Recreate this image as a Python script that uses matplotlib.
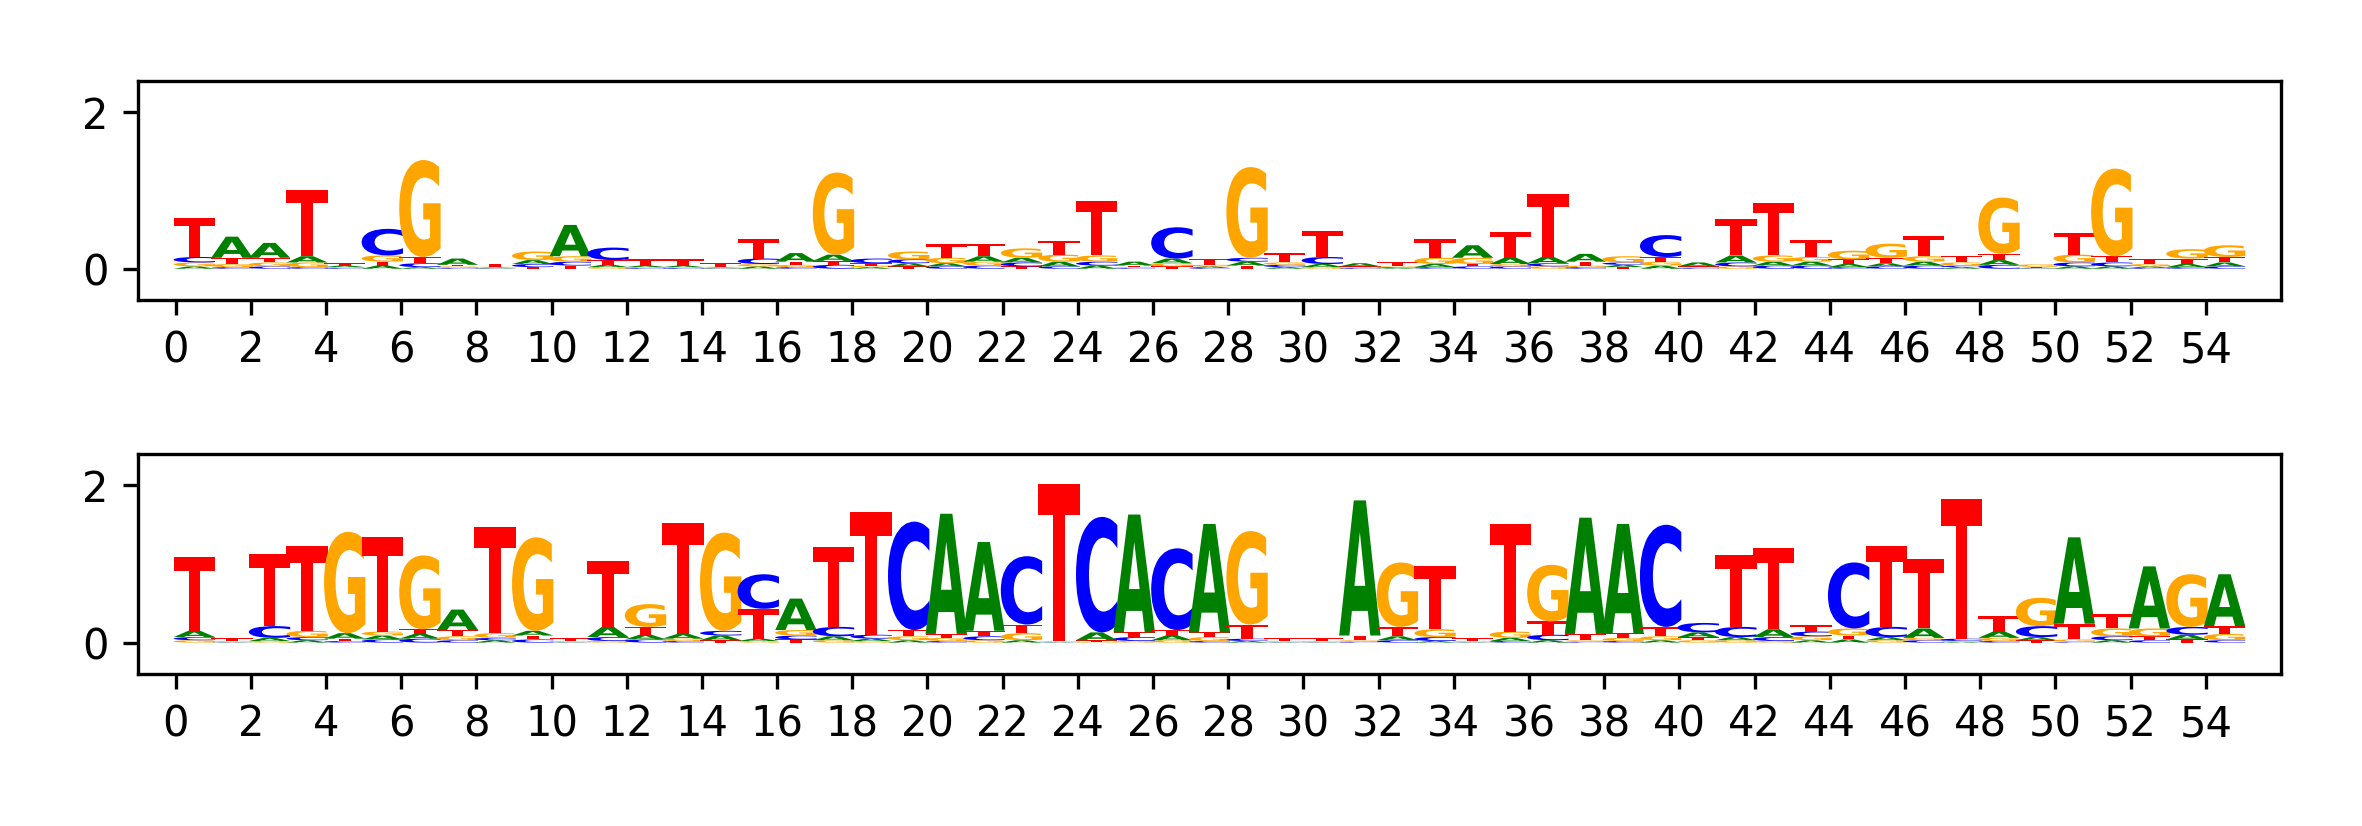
import matplotlib

matplotlib.use("Agg")
import matplotlib.pyplot as plt
from matplotlib.font_manager import FontProperties
from matplotlib.patches import PathPatch
from matplotlib.textpath import TextPath
from matplotlib.transforms import Affine2D

BASES = ["A", "C", "G", "T"]
COLORS = {"A": "green", "C": "blue", "G": "orange", "T": "red"}

# panel 1 letter heights (bits) per position 0..54
top_A = [0.03, 0.27, 0.19, 0.08, 0.02, 0.04, 0.02, 0.08, 0.01, 0.05,
         0.40, 0.03, 0.02, 0.02, 0.01, 0.03, 0.11, 0.08, 0.02, 0.04,
         0.04, 0.07, 0.06, 0.06, 0.04, 0.05, 0.06, 0.02, 0.05, 0.02,
         0.04, 0.04, 0.01, 0.04, 0.16, 0.08, 0.08, 0.10, 0.03, 0.04,
         0.05, 0.09, 0.05, 0.05, 0.04, 0.04, 0.05, 0.02, 0.06, 0.01,
         0.03, 0.03, 0.02, 0.04, 0.05]
top_C = [0.07, 0.02, 0.03, 0.02, 0.01, 0.34, 0.05, 0.01, 0.005, 0.04,
         0.05, 0.16, 0.01, 0.01, 0.005, 0.07, 0.02, 0.05, 0.06, 0.05,
         0.03, 0.04, 0.05, 0.03, 0.05, 0.01, 0.40, 0.01, 0.05, 0.03,
         0.09, 0.01, 0.01, 0.02, 0.03, 0.03, 0.04, 0.02, 0.03, 0.28,
         0.01, 0.05, 0.04, 0.04, 0.02, 0.03, 0.04, 0.02, 0.05, 0.005,
         0.05, 0.05, 0.01, 0.02, 0.03]
top_G = [0.05, 0.04, 0.05, 0.06, 0.01, 0.08, 1.24, 0.02, 0.01, 0.11,
         0.07, 0.02, 0.01, 0.01, 0.01, 0.03, 0.03, 1.05, 0.02, 0.10,
         0.07, 0.05, 0.12, 0.09, 0.08, 0.01, 0.04, 0.02, 1.16, 0.03,
         0.02, 0.01, 0.01, 0.08, 0.08, 0.03, 0.03, 0.02, 0.08, 0.05,
         0.01, 0.03, 0.08, 0.06, 0.11, 0.18, 0.07, 0.04, 0.72, 0.03,
         0.10, 1.12, 0.03, 0.12, 0.15]
top_T = [0.50, 0.08, 0.06, 0.85, 0.03, 0.05, 0.08, 0.02, 0.04, 0.02,
         0.04, 0.06, 0.08, 0.08, 0.05, 0.25, 0.04, 0.05, 0.03, 0.03,
         0.17, 0.16, 0.03, 0.18, 0.69, 0.02, 0.03, 0.07, 0.04, 0.12,
         0.33, 0.01, 0.05, 0.24, 0.03, 0.33, 0.80, 0.05, 0.02, 0.06,
         0.01, 0.46, 0.67, 0.22, 0.06, 0.07, 0.26, 0.08, 0.08, 0.01,
         0.28, 0.08, 0.07, 0.07, 0.07]

# panel 2 letter heights (bits) per position 0..54
bot_A = [0.08, 0.005, 0.04, 0.03, 0.07, 0.05, 0.06, 0.26, 0.03, 0.06,
         0.005, 0.13, 0.06, 0.06, 0.06, 0.03, 0.40, 0.05, 0.03, 0.03,
         1.53, 1.13, 0.03, 0.005, 0.10, 1.50, 0.06, 1.38, 0.02, 0.005,
         0.005, 1.72, 0.05, 0.02, 0.005, 0.04, 0.03, 1.48, 1.39, 0.03,
         0.06, 0.04, 0.10, 0.03, 0.04, 0.04, 0.12, 0.01, 0.08, 0.04,
         1.10, 0.03, 0.79, 0.06, 0.66]
bot_C = [0.04, 0.005, 0.15, 0.04, 0.02, 0.04, 0.05, 0.03, 0.03, 0.04,
         0.005, 0.05, 0.04, 0.02, 0.06, 0.44, 0.05, 0.12, 0.05, 1.38,
         0.02, 0.05, 0.87, 0.005, 1.47, 0.05, 1.04, 0.02, 0.03, 0.005,
         0.005, 0.01, 0.03, 0.05, 0.005, 0.02, 0.07, 0.01, 0.02, 1.30,
         0.12, 0.13, 0.05, 0.06, 0.84, 0.13, 0.03, 0.03, 0.02, 0.14,
         0.01, 0.05, 0.03, 0.10, 0.03]
bot_G = [0.03, 0.005, 0.02, 0.08, 1.29, 0.05, 0.94, 0.05, 0.06, 1.19,
         0.005, 0.02, 0.29, 0.03, 1.25, 0.02, 0.07, 0.03, 0.02, 0.05,
         0.04, 0.03, 0.09, 0.005, 0.01, 0.02, 0.03, 0.05, 1.19, 0.005,
         0.005, 0.02, 0.82, 0.10, 0.005, 0.08, 0.72, 0.02, 0.04, 0.05,
         0.03, 0.03, 0.02, 0.05, 0.09, 0.03, 0.03, 0.01, 0.04, 0.36,
         0.03, 0.10, 0.10, 0.67, 0.08]
bot_T = [0.94, 0.04, 0.92, 1.08, 0.03, 1.20, 0.06, 0.08, 1.35, 0.05,
         0.04, 0.84, 0.10, 1.41, 0.03, 0.38, 0.04, 1.02, 1.56, 0.08,
         0.05, 0.07, 0.11, 2.00, 0.02, 0.06, 0.07, 0.06, 0.18, 0.04,
         0.04, 0.06, 0.12, 0.80, 0.04, 1.37, 0.17, 0.08, 0.06, 0.12,
         0.04, 0.91, 1.04, 0.08, 0.05, 1.03, 0.88, 1.78, 0.20, 0.03,
         0.20, 0.18, 0.05, 0.04, 0.10]

FP = FontProperties(family="DejaVu Sans", weight="bold")


def draw_letter(ax, ch, x, y, w, h, color):
    tp = TextPath((0, 0), ch, size=1, prop=FP)
    bb = tp.get_extents()
    tr = (
        Affine2D()
        .translate(-bb.x0, -bb.y0)
        .scale(w / bb.width, h / bb.height)
        .translate(x, y)
    )
    ax.add_patch(PathPatch(tr.transform_path(tp), facecolor=color, edgecolor="none", lw=0))


def draw_logo(ax, heights):
    n = len(heights["A"])
    for i in range(n):
        col = sorted(((heights[b][i], b) for b in BASES))
        y = 0.0
        for h, b in col:
            draw_letter(ax, b, i - 0.05, y, 1.1, h, COLORS[b])
            y += h
    ax.set_xlim(-1, 56)
    ax.set_ylim(-0.4, 2.4)
    ax.set_xticks(range(0, n, 2))
    ax.set_yticks([0, 2])


fig = plt.figure(figsize=(2362 / 300, 826 / 300), dpi=300)
ax1 = fig.add_axes([0.0584, 0.6368, 0.9073, 0.2651])
ax2 = fig.add_axes([0.0584, 0.1840, 0.9073, 0.2663])

draw_logo(ax1, {"A": top_A, "C": top_C, "G": top_G, "T": top_T})
draw_logo(ax2, {"A": bot_A, "C": bot_C, "G": bot_G, "T": bot_T})

fig.savefig("out.png", dpi=300)
plt.close(fig)
